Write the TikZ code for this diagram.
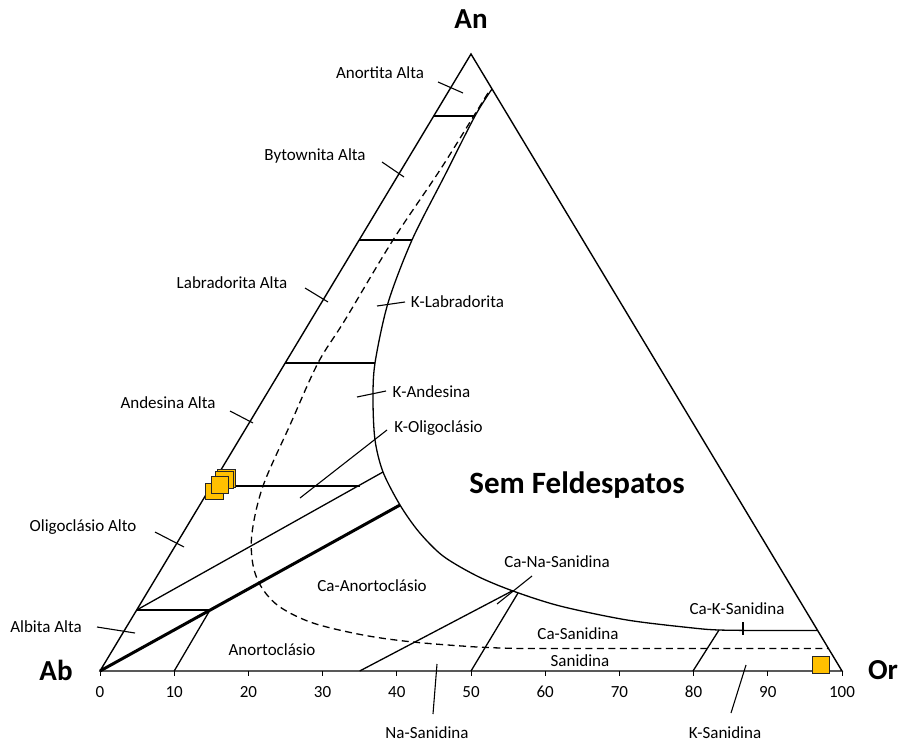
\documentclass[tikz,border=0pt]{standalone}
\usepackage{fontspec}
\setmainfont{Carlito}
\definecolor{gold}{HTML}{FFC000}
\begin{document}
\begin{tikzpicture}[x=1pt,y=-1pt,
  lbl/.style={font=\fontsize{17}{20}\selectfont, inner sep=0pt},
  big/.style={font=\fontsize{29}{34}\selectfont\bfseries, inner sep=0pt},
  tri/.style={line width=1.4pt, line join=miter},
  bnd/.style={line width=1.3pt},
  heavy/.style={line width=3pt},
  dsh/.style={line width=1.3pt, dash pattern=on 7pt off 4.5pt},
  sq/.style={fill=gold, draw=black!85, line width=0.8pt},
  tk/.style={line width=1.1pt}
]
\useasboundingbox (0,0) rectangle (904,744);

% corners
\coordinate (Ab) at (100,671);
\coordinate (Or) at (842,671);
\coordinate (An) at (471,54);

% triangle
\draw[tri] (Ab) -- (Or) -- (An) -- cycle;

% axis ticks and numbers
\foreach \k in {0,...,10}{
  \pgfmathsetmacro{\xx}{100+74.2*\k}
  \draw[line width=1pt] (\xx,671) -- (\xx,676);
  \pgfmathtruncatemacro{\val}{10*\k}
  \node[lbl] (t\k) at (\xx,692) {\val};
}

% solid boundary curve
\draw[bnd] plot[smooth, tension=0.5] coordinates {
 (492,89) (475,116) (445,175) (412,240) (388,303) (375,363) (373,400)
 (375,440) (383,472) (400,505) (419,532) (443,556) (477,576) (513,591)
 (560,606) (627,620) (693,628) (719,630) (760,630.5)} -- (817.3,630.5);

% dashed curve
\draw[dsh] plot[smooth, tension=0.55] coordinates {
 (488,93) (475,114) (440,170) (393,240) (345,320) (318,363) (290,425)
 (263,486) (252,533) (253,565) (262,588) (280,607) (313,623) (363,635)
 (413,642) (477,647) (520,648.5)} -- (828.5,648.5);

% horizontal tie lines
\coordinate (h1a) at (433.7,116); \coordinate (h1b) at (475,116);
\coordinate (h2a) at (359.2,240); \coordinate (h2b) at (412,240);
\coordinate (h3a) at (285.2,363); \coordinate (h3b) at (375,363);
\coordinate (h4a) at (211.2,486); \coordinate (h4b) at (360,486);
\coordinate (h5a) at (136.7,610); \coordinate (h5b) at (210,610);
\draw[bnd] (h1a) -- (h1b);
\draw[bnd] (h2a) -- (h2b);
\draw[bnd] (h3a) -- (h3b);
\draw[bnd] (h4a) -- (h4b);
\draw[bnd] (h5a) -- (h5b);

% thick line and parallels
\coordinate (thk) at (400,505);
\draw[heavy] (Ab) -- (thk);
\coordinate (p1) at (383,472);
\draw[bnd] (h5a) -- (p1);
\coordinate (b10) at (174.2,671);
\draw[bnd] (b10) -- (h5b);
\coordinate (b35) at (359.7,671); \coordinate (e35) at (512,591);
\draw[bnd] (b35) -- (e35);
\coordinate (b50) at (471,671); \coordinate (e50) at (518,593);
\draw[bnd] (b50) -- (e50);
\coordinate (b80) at (693,671); \coordinate (e80) at (719,630);
\draw[bnd] (b80) -- (e80);

% samples
\draw[sq] (217,469) rectangle (235,487);
\draw[sq] (215,471) rectangle (233,488.5);
\draw[sq] (205,483) rectangle (223,499);
\draw[sq] (211,476) rectangle (228,493);
\draw[sq] (812,656) rectangle (829,673);

% corner labels
\node[big] (lAn) at (471,19) {An};
\node[big] (lAb) at (56,670) {Ab};
\node[big] (lOr) at (883,670) {Or};
\node[big, font=\fontsize{31}{36}\selectfont\bfseries, anchor=base] (lSem) at (577,493) {Sem Feldespatos};

% field labels
\node[lbl] (nAnort) at (380,73) {Anortita Alta};
\draw[tk] (438,82) -- (463,93);
\node[lbl] (nByt) at (315,156) {Bytownita Alta};
\draw[tk] (382,162) -- (404,177);
\node[lbl] (nLab) at (232,283) {Labradorita Alta};
\draw[tk] (305,288) -- (328,302);
\node[lbl] (nAnd) at (168,403) {Andesina Alta};
\draw[tk] (230,411) -- (253,423);
\node[lbl] (nOli) at (83,527) {Oligoclásio Alto};
\draw[tk] (155,532) -- (184,547);
\node[lbl] (nAlb) at (46,627) {Albita Alta};
\draw[tk] (97,627) -- (135,633);
\node[lbl] (nKLab) at (457.5,302) {K-Labradorita};
\draw[tk] (377,306) -- (405,302);
\node[lbl] (nKAnd) at (431.5,392) {K-Andesina};
\draw[tk] (357,397) -- (386,391);
\node[lbl] (nKOli) at (438.5,428) {K-Oligoclásio};
\draw[tk] (387,430) -- (300,498);
\node[lbl] (nCaAn) at (372,586) {Ca-Anortoclásio};
\node[lbl] (nAn) at (272,650) {Anortoclásio};
\node[lbl] (nCaNa) at (557,562) {Ca-Na-Sanidina};
\draw[tk] (532,576) -- (497,604);
\node[lbl] (nCaK) at (737,609) {Ca-K-Sanidina};
\draw[tk] (743,622) -- (743,635);
\node[lbl] (nCaS) at (578,634) {Ca-Sanidina};
\node[lbl] (nSan) at (580,661) {Sanidina};
\node[lbl] (nNaS) at (427,733) {Na-Sanidina};
\draw[tk] (437,664) -- (433,714);
\node[lbl] (nKS) at (725,733) {K-Sanidina};
\draw[tk] (746,665) -- (731,713);
\end{tikzpicture}
\end{document}
